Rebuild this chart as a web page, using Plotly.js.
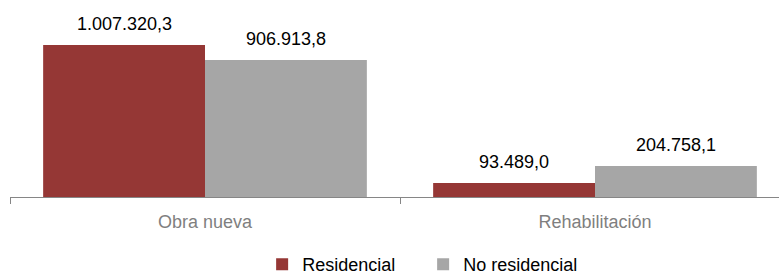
<!DOCTYPE html>
<html>
<head>
<meta charset="utf-8">
<script src="https://cdn.plot.ly/plotly-3.0.1.min.js"></script>
<style>html,body{margin:0;padding:0;background:#fff;}#chart{width:779px;height:277px;}</style>
</head>
<body>
<div id="chart"></div>
<script>
var categories = ["Obra nueva", "Rehabilitación"];
var residencial = [1007320.3, 93489.0];
var noResidencial = [906913.8, 204758.1];
var seriesNames = ["Residencial", "No residencial"];

function fmt(v) {
  var parts = v.toFixed(1).split(".");
  var intPart = parts[0].replace(/\B(?=(\d{3})+(?!\d))/g, ".");
  return intPart + "," + parts[1];
}

var traces = [
  {type: "bar", name: seriesNames[0], x: categories, y: residencial, marker: {color: "#953735"}, hoverinfo: "none"},
  {type: "bar", name: seriesNames[1], x: categories, y: noResidencial, marker: {color: "#A6A6A6"}, hoverinfo: "none"}
];

var annotations = [];
[residencial, noResidencial].forEach(function (arr, s) {
  arr.forEach(function (v, i) {
    annotations.push({
      x: categories[i], y: v, xref: "x", yref: "y",
      text: fmt(v), showarrow: false,
      xshift: s === 0 ? -81 : 81, yshift: 21, yanchor: "middle",
      font: {family: "Liberation Sans, Arial, sans-serif", size: 18, color: "#000"}
    });
  });
});

var layout = {
  width: 779, height: 277,
  margin: {l: 10, r: 0, t: 0, b: 80},
  paper_bgcolor: "#fff", plot_bgcolor: "#fff",
  barmode: "group", bargap: 0.17, bargroupgap: 0,
  font: {family: "Liberation Sans, Arial, sans-serif", size: 18},
  xaxis: {
    type: "category", range: [-0.5, 1.4718],
    showline: true, linecolor: "#868686", linewidth: 1,
    ticks: "outside", tickson: "boundaries", ticklen: 6, tickcolor: "#868686",
    tickfont: {size: 18, color: "#7f7f7f"}, showgrid: false, zeroline: false,
    ticklabelstandoff: 8
  },
  yaxis: {range: [0, 1304600], visible: false, showgrid: false, zeroline: false},
  showlegend: true,
  legend: {
    orientation: "h", xref: "container", yref: "container",
    x: 0.3365, xanchor: "left", y: 0.045, yanchor: "middle",
    font: {size: 18, color: "#000"}, itemwidth: 30, traceorder: "normal",
    entrywidth: 116
  },
  annotations: annotations
};

Plotly.newPlot("chart", traces, layout, {displayModeBar: false, staticPlot: true});
</script>
</body>
</html>
